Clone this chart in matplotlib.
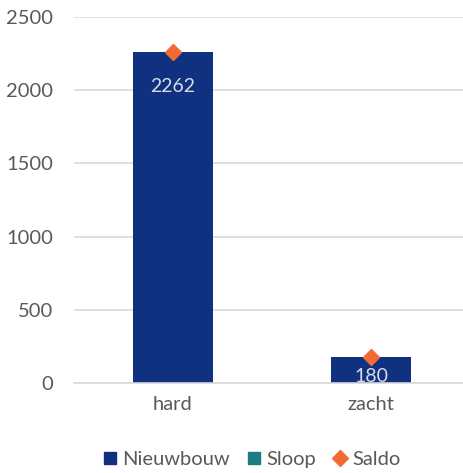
import matplotlib.pyplot as plt
import numpy as np

plt.rcParams['font.family'] = ['Lato', 'DejaVu Sans']

categorieen = ['hard', 'zacht']
nieuwbouw = [2262, 180]
sloop = [0, 0]
saldo = [2262, 180]
reeksen = ['Nieuwbouw', 'Sloop', 'Saldo']
yticks = [0, 500, 1000, 1500, 2000, 2500]

kleur_nieuw = '#10317f'
kleur_sloop = '#1d7b82'
kleur_saldo = '#f26b34'
grijs = '#595959'

fig = plt.figure(figsize=(4.63, 4.73), dpi=100)
ax = fig.add_axes([74 / 463, 90 / 473, 396 / 463, 366 / 473])

x = np.arange(len(categorieen))
ax.bar(x, nieuwbouw, width=0.40, color=kleur_nieuw, zorder=2)
ax.bar(x, sloop, width=0.40, color=kleur_sloop, zorder=2)
ax.plot(x, saldo, linestyle='none', marker='D', markersize=8,
        color=kleur_saldo, zorder=4)

# waardelabels in de balk
offsets = [-26, -11]
for xi, v, off in zip(x, nieuwbouw, offsets):
    ax.annotate(str(v), (xi, v), xytext=(0, off), textcoords='offset pixels',
                ha='center', va='top', color='#d6dcea', fontsize=14, zorder=3)

ax.set_xlim(-0.5, 1.5)
ax.set_ylim(0, 2500)
ax.set_yticks(yticks)
ax.set_xticks(x)
ax.set_xticklabels(categorieen)
ax.grid(axis='y', color='#d9d9d9', linewidth=1.2, zorder=0)
ax.set_axisbelow(True)
for s in ['top', 'right', 'left']:
    ax.spines[s].set_visible(False)
ax.spines['bottom'].set_color('#d9d9d9')
ax.spines['bottom'].set_linewidth(1.2)
ax.tick_params(axis='y', length=0, pad=15, labelsize=14.5, labelcolor=grijs)
ax.tick_params(axis='x', length=0, pad=9, labelsize=14.5, labelcolor=grijs)

handles = [plt.Line2D([], [], linestyle='none', marker='s', markersize=9, color=kleur_nieuw),
           plt.Line2D([], [], linestyle='none', marker='s', markersize=9, color=kleur_sloop),
           plt.Line2D([], [], linestyle='none', marker='D', markersize=8, color=kleur_saldo)]
fig.legend(handles, reeksen, loc='center', bbox_to_anchor=(250 / 463, 14 / 473), ncol=3,
           frameon=False, fontsize=14.5, labelcolor=grijs, handletextpad=0.1,
           columnspacing=0.7, handlelength=1.0)

fig.savefig('out.png', dpi=100)
